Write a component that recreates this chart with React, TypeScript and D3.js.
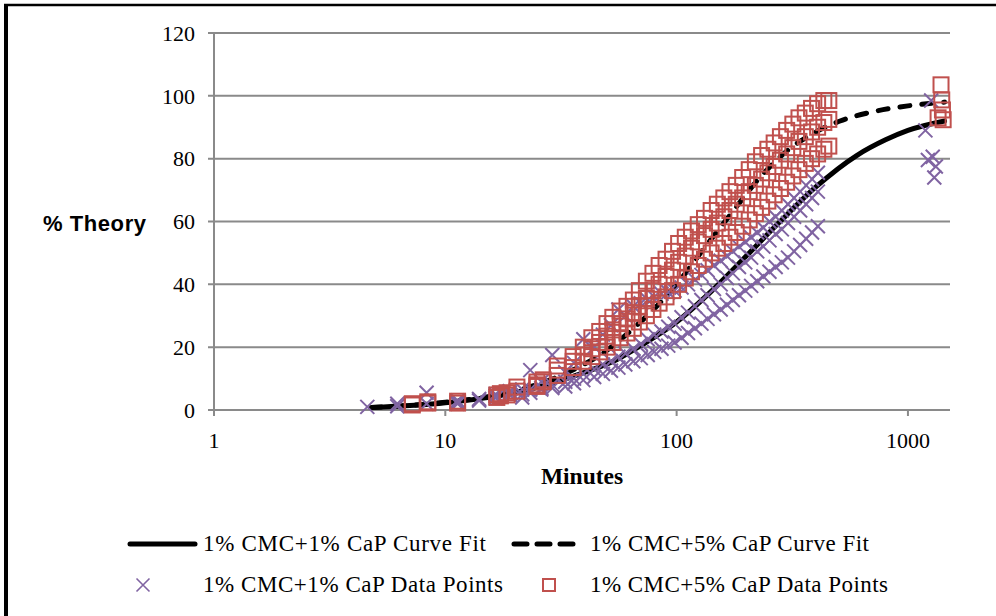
import React from "react";
import * as d3 from "d3";

// ---- Data ----
const xTickValues = [1, 10, 100, 1000];
const yTickValues = [0, 20, 40, 60, 80, 100, 120];

const fitOneTimes = [4.8, 10, 20, 40, 55, 70, 100, 140, 200, 280, 400, 600, 800, 1000, 1440];
const fitOneValues = [0.8, 2.3, 5.5, 12, 16, 20.5, 28, 37.5, 49, 60, 71, 81, 86, 89, 92];

const fitFiveTimes = [4.8, 10, 20, 35, 50, 65, 82, 100, 130, 170, 229, 300, 400, 509, 665, 1000, 1440];
const fitFiveValues = [0.8, 2.5, 6, 12.5, 19, 26, 33, 40, 51, 62, 74, 82.5, 88.5, 92, 94.5, 96.8, 98];

const capOneTimes = [4.6, 6.2, 8.3, 11.3, 14, 16.5, 19, 21.5, 23.3, 26, 29, 33, 36, 39.5, 44, 48, 52, 56, 60, 65, 70, 75, 80, 86, 92, 98, 105, 112, 120, 128, 136, 145, 155, 165, 175, 186, 198, 210, 223, 237, 252, 268, 285, 303, 322, 342, 363, 385, 408];
const capOneRunA = [1.0, 2.0, 5.5, 2.5, 3.5, 4.5, 5.5, 4.0, 12.7, 9.0, 17.5, 12.0, 15.0, 22.5, 20.0, 24.0, 27.0, 32.0, 30.0, 33.0, 34.0, 35.0, 36.0, 37.0, 37.5, 38.0, 39.0, 40.0, 41.5, 43.0, 44.5, 46.0, 47.5, 49.0, 50.5, 52.0, 53.5, 55.0, 56.5, 58.0, 60.0, 61.5, 63.5, 65.5, 67.5, 69.5, 71.5, 73.5, 75.5];
const capOneRunB = [null, 1.2, 2.0, 2.0, 3.0, 3.8, 4.8, 6.5, 6.5, 7.0, 8.0, 9.0, 10.0, 11.5, 13.0, 14.5, 15.5, 17.0, 18.0, 19.5, 21.0, 22.5, 24.0, 25.0, 26.5, 27.5, 29.5, 31.0, 33.0, 35.0, 36.5, 38.5, 40.0, 42.0, 43.5, 45.5, 47.0, 48.5, 50.5, 52.0, 54.0, 56.0, 57.5, 59.5, 61.5, 63.5, 65.5, 67.5, 69.5];
const capOneRunC = [null, null, null, 3.0, null, 5.0, 6.0, 5.0, 5.5, 6.5, 7.0, 7.5, 8.5, 9.5, 10.5, 11.5, 12.5, 13.5, 14.5, 15.5, 16.5, 17.5, 18.5, 19.5, 20.5, 21.5, 23.0, 24.5, 26.0, 27.5, 29.0, 30.5, 32.0, 33.5, 35.0, 36.5, 38.0, 39.5, 41.0, 42.5, 44.0, 45.5, 47.0, 48.5, 50.5, 52.5, 54.5, 56.5, 58.5];
const capOneLateTimes = [1190, 1220, 1260, 1280, 1300, 1320];
const capOneLateValues = [89, 79.6, 98.5, 80.6, 74, 77.5];

const capFiveTimes = [7.2, 8.4, 11.3, 16.7, 17.3, 18.5, 20.4, 24.9, 26.5, 30.5, 35.7, 39.5, 43, 46.5, 50, 53, 57, 61, 65, 69, 74, 79, 84, 90, 96, 102, 109, 116, 124, 132, 141, 150, 160, 170, 181, 193, 206, 219, 233, 248, 264, 281, 299, 318, 338, 360, 383, 407, 433, 455];
const capFiveRunA = [1.6, 2.2, 2.2, 4.8, 5.2, 5.5, 7.3, 8.9, 9.6, 14, 17, 20, 23, 25, 27.5, 29.5, 31.5, 33, 35, 38, 41, 43.5, 46, 48, 50.5, 53, 55, 57, 59, 61, 63.5, 65.5, 67.5, 69.5, 71.5, 74, 76.5, 79, 81, 83, 85, 87, 89, 91, 93, 94.5, 96, 97.5, 98.5, 98.5];
const capFiveRunB = [2.0, 2.6, 2.8, 4.0, 4.5, 4.8, 6.0, 8.0, 9.0, 12.7, 15.5, 17.5, 19.5, 21.5, 23.5, 25.5, 27.5, 29, 31, 33, 35.5, 38, 40, 42.5, 44.5, 47, 49, 51.5, 53.5, 55.5, 57.5, 59.5, 61.5, 63.5, 65.5, 67.5, 69.5, 71.5, 73.5, 75.5, 77.5, 79.5, 81.5, 83.5, 85.5, 87, 88.5, 90, 91.5, 92.5];
const capFiveRunC = [null, null, null, null, null, null, null, 7.5, null, 11, 13.5, 15.5, 17, 18.5, 20, 21.5, 23, 24.5, 26, 28, 30, 32, 34, 36, 38, 40, 42, 44, 46, 48, 50, 51.5, 53, 55, 56.5, 58.5, 60.5, 62.5, 64.5, 66.5, 68.5, 70.5, 72.5, 74.5, 76.5, 78.5, 80, 81.5, 83, 84];
const capFiveLateTimes = [1350, 1390, 1400, 1410, 1420];
const capFiveLateValues = [93, 103.5, 98.7, 95.5, 92.4];

const legendLabels = [
  "1% CMC+1% CaP Curve Fit",
  "1% CMC+5% CaP Curve Fit",
  "1% CMC+1% CaP Data Points",
  "1% CMC+5% CaP Data Points",
];

// ---- Layout ----
const W = 996;
const H = 616;
const plotLeft = 214;
const plotRight = 950;
const plotTop = 33;
const plotBottom = 410;

const PURPLE = "#8064A2";
const RED = "#C0504D";
const GRID = "#8a8a8a";
const SERIF = "'Liberation Serif', 'Times New Roman', serif";
const SANS = "'Liberation Sans', Arial, sans-serif";

function collect(times: number[], ...runs: (number | null)[][]) {
  const pts: [number, number][] = [];
  runs.forEach((run) => {
    run.forEach((v, i) => {
      if (v !== null && v !== undefined) pts.push([times[i], v]);
    });
  });
  return pts;
}

export default function App() {
  const x = d3.scaleLog().domain([1, 1520]).range([plotLeft, plotRight]);
  const y = d3.scaleLinear().domain([0, 120]).range([plotBottom, plotTop]);

  const line = d3
    .line<[number, number]>()
    .x((d) => x(d[0]))
    .y((d) => y(d[1]))
    .curve(d3.curveMonotoneX);

  const fitOne = line(fitOneTimes.map((t, i) => [t, fitOneValues[i]]) as [number, number][]) || "";
  const fitFive = line(fitFiveTimes.map((t, i) => [t, fitFiveValues[i]]) as [number, number][]) || "";

  const onePts = collect(capOneTimes, capOneRunA, capOneRunB, capOneRunC).concat(
    capOneLateTimes.map((t, i) => [t, capOneLateValues[i]] as [number, number])
  );
  const fivePts = collect(capFiveTimes, capFiveRunA, capFiveRunB, capFiveRunC).concat(
    capFiveLateTimes.map((t, i) => [t, capFiveLateValues[i]] as [number, number])
  );

  const xs = 7;
  const sq = 7.5;

  const xMarker = (cx: number, cy: number, key: string, h = xs, sw = 2) => (
    <path
      key={key}
      d={`M${cx - h},${cy - h}L${cx + h},${cy + h}M${cx - h},${cy + h}L${cx + h},${cy - h}`}
      stroke={PURPLE}
      strokeWidth={sw}
      fill="none"
    />
  );
  const sqMarker = (cx: number, cy: number, key: string, h = sq) => (
    <rect
      key={key}
      x={cx - h}
      y={cy - h}
      width={2 * h}
      height={2 * h}
      stroke={RED}
      strokeWidth={2}
      fill="none"
    />
  );

  const legendFont = 23;

  return (
    <svg
      width={W}
      height={H}
      style={{ position: "absolute", left: 0, top: 0, background: "#fff" }}
    >
      <rect x={0} y={0} width={W} height={H} fill="#fff" />
      {/* chart border */}
      <line x1={4} y1={5} x2={W + 5} y2={5} stroke="#000" strokeWidth={2.5} />
      <line x1={6} y1={4} x2={6} y2={H + 5} stroke="#000" strokeWidth={4} />

      {/* gridlines */}
      {yTickValues.map((v) => (
        <line
          key={"g" + v}
          x1={plotLeft - 6}
          x2={plotRight}
          y1={y(v)}
          y2={y(v)}
          stroke={GRID}
          strokeWidth={2}
        />
      ))}
      <line x1={plotLeft} x2={plotLeft} y1={plotTop} y2={plotBottom} stroke={GRID} strokeWidth={2} />
      {xTickValues.map((v) => (
        <line
          key={"xt" + v}
          x1={x(v)}
          x2={x(v)}
          y1={plotBottom}
          y2={plotBottom + 6}
          stroke={GRID}
          strokeWidth={2}
        />
      ))}
      {yTickValues.map((v) => (
        <text
          key={"yl" + v}
          x={195}
          y={y(v)}
          dy="0.35em"
          textAnchor="end"
          fontFamily={SERIF}
          fontSize={22}
          fill="#000"
        >
          {v}
        </text>
      ))}
      {xTickValues.map((v) => (
        <text
          key={"xl" + v}
          x={x(v)}
          y={448}
          textAnchor="middle"
          fontFamily={SERIF}
          fontSize={22}
          fill="#000"
        >
          {v}
        </text>
      ))}

      {/* axis titles */}
      <text x={582} y={484} textAnchor="middle" fontFamily={SERIF} fontWeight="bold" fontSize={23.5}>
        Minutes
      </text>
      <text x={43} y={231} fontFamily={SANS} fontWeight="bold" fontSize={22} textLength={103}>
        % Theory
      </text>

      {/* curve fits */}
      <path d={fitOne} fill="none" stroke="#000" strokeWidth={5} strokeLinecap="round" />
      <path
        d={fitFive}
        fill="none"
        stroke="#000"
        strokeWidth={5}
        strokeDasharray="10,12"
        strokeLinecap="round"
      />

      {/* data points */}
      <g>{onePts.map((p, i) => xMarker(x(p[0]), y(p[1]), "o" + i))}</g>
      <g>{fivePts.map((p, i) => sqMarker(x(p[0]), y(p[1]), "f" + i))}</g>

      {/* legend */}
      <line x1={130} x2={195} y1={544} y2={544} stroke="#000" strokeWidth={5} strokeLinecap="round" />
      <text x={203} y={551} fontFamily={SERIF} fontSize={legendFont} textLength={283}>
        {legendLabels[0]}
      </text>
      <line
        x1={514}
        x2={577}
        y1={544}
        y2={544}
        stroke="#000"
        strokeWidth={5}
        strokeDasharray="13,10"
        strokeLinecap="round"
      />
      <text x={590} y={551} fontFamily={SERIF} fontSize={legendFont} textLength={279}>
        {legendLabels[1]}
      </text>
      {xMarker(143, 585, "lx", 6.5, 1.6)}
      <text x={203} y={592} fontFamily={SERIF} fontSize={legendFont} textLength={300}>
        {legendLabels[2]}
      </text>
      {sqMarker(549, 585, "ls", 6)}
      <text x={590} y={592} fontFamily={SERIF} fontSize={legendFont} textLength={298}>
        {legendLabels[3]}
      </text>
    </svg>
  );
}
